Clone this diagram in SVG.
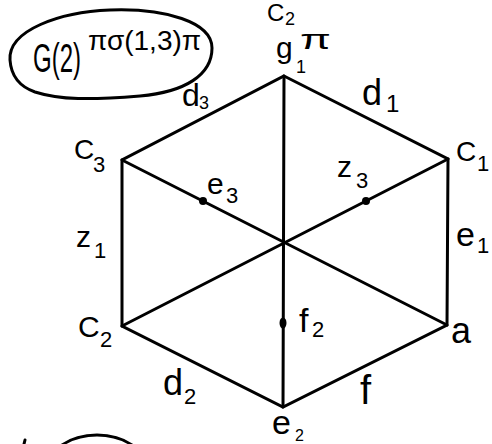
<svg xmlns="http://www.w3.org/2000/svg" width="492" height="444" viewBox="0 0 492 444">
<style>
.edge{stroke:#000;stroke-width:3;stroke-linecap:round;fill:none}
.t{font-family:"Liberation Sans","DejaVu Sans",sans-serif;fill:#000}
.dot{fill:#000}
.outline{stroke:#000;stroke-width:3;fill:none}
</style>
<rect width="492" height="444" fill="#fff"/>
<g id="title">
<path class="outline" d="M 10,60 C 8,30 60,12 110,10 C 165,8 212,22 212,48 C 212,75 185,92 140,96 C 90,100 60,100 35,92 C 18,86 11,75 10,60 Z"/>
<g transform="translate(33,72) scale(0.6,1)">
<text class="t" x="0" y="0" font-size="40">G(2)</text>
</g>
<text class="t" x="88" y="50" font-size="28">πσ(1,3)π</text>
</g>
<g id="connectors">
<polygon class="edge" points="284,76 448,159 447,325 283,407 122,326 122,160"/>
<line class="edge" x1="284" y1="76" x2="283" y2="407"/>
<line class="edge" x1="122" y1="160" x2="447" y2="325"/>
<line class="edge" x1="448" y1="159" x2="122" y2="326"/>
<text class="t" x="362" y="105" font-size="36">d</text><text class="t" x="386" y="112" font-size="24">1</text>
<text class="t" x="456" y="246" font-size="34">e</text><text class="t" x="477" y="253" font-size="22">1</text>
<text class="t" x="360" y="404" font-size="40">f</text>
<text class="t" x="163" y="395" font-size="36">d</text><text class="t" x="184" y="404" font-size="22">2</text>
<text class="t" x="76" y="247" font-size="30">z</text><text class="t" x="94" y="258" font-size="22">1</text>
<text class="t" x="182" y="106" font-size="32">d</text><text class="t" x="199" y="109" font-size="18">3</text>
</g>
<g id="node-c2-top">
<text class="t" x="267" y="21" font-size="24">C</text><text class="t" x="285" y="25" font-size="18">2</text>
</g>
<g id="node-g1">
<text class="t" x="276" y="58" font-size="30">g</text>
<text class="t" x="296" y="73" font-size="18">1</text>
<text class="t" x="300" y="49" font-size="28" transform="translate(300,49) scale(1.6,1) translate(-300,-49)">π</text>
</g>
<g id="node-c1">
<text class="t" x="456" y="161" font-size="28">C</text><text class="t" x="477" y="171" font-size="22">1</text>
</g>
<g id="node-a">
<text class="t" x="451" y="343" font-size="36">a</text>
</g>
<g id="node-e2">
<text class="t" x="272" y="434" font-size="34">e</text><text class="t" x="295" y="441" font-size="16">2</text>
</g>
<g id="node-c2">
<text class="t" x="78" y="337" font-size="30">C</text><text class="t" x="100" y="347" font-size="22">2</text>
</g>
<g id="node-c3">
<text class="t" x="74" y="159" font-size="28">C</text><text class="t" x="93" y="172" font-size="22">3</text>
</g>
<g id="node-e3">
<circle class="dot" cx="203" cy="201" r="4"/>
<text class="t" x="207" y="194" font-size="30">e</text><text class="t" x="226" y="203" font-size="22">3</text>
</g>
<g id="node-z3">
<circle class="dot" cx="366" cy="201" r="4"/>
<text class="t" x="337" y="177" font-size="30">z</text><text class="t" x="356" y="188" font-size="22">3</text>
</g>
<g id="node-f2">
<ellipse class="dot" cx="283" cy="323" rx="3.5" ry="5.5"/>
<text class="t" x="299" y="332" font-size="34">f</text><text class="t" x="312" y="337" font-size="22">2</text>
</g>
<g id="bottom-fragment">
<ellipse class="outline" cx="97" cy="470" rx="50" ry="35"/>
<line class="edge" x1="25" y1="440" x2="24" y2="444"/>
</g>
</svg>
